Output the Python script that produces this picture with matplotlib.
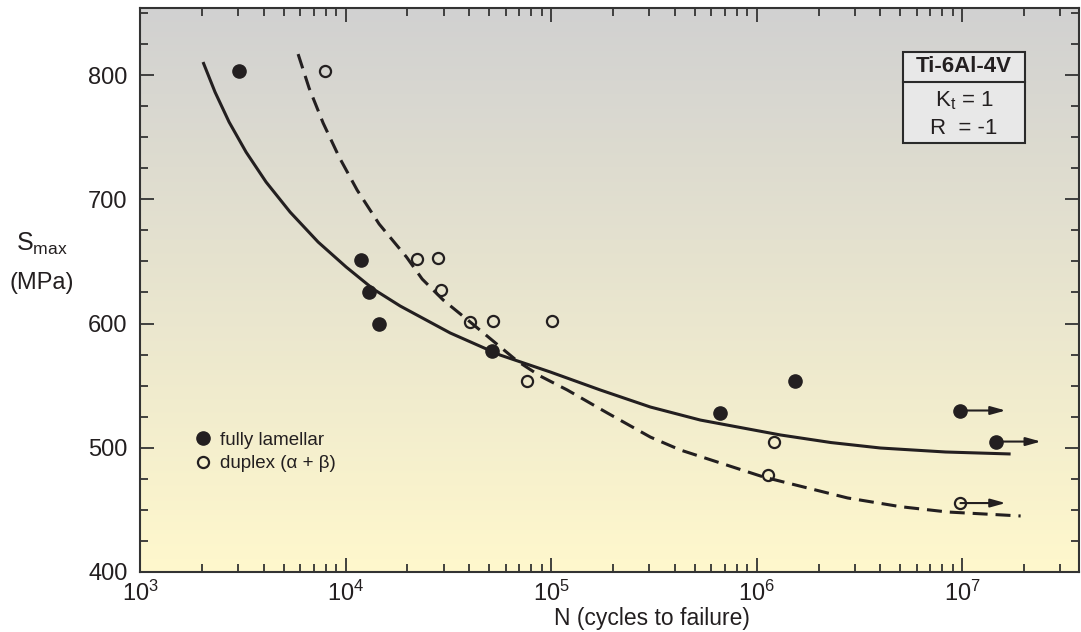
import numpy as np
import matplotlib
matplotlib.use("Agg")
import matplotlib.pyplot as plt
from matplotlib.ticker import LogLocator, FixedLocator, NullFormatter, FuncFormatter
from matplotlib.lines import Line2D
from matplotlib.patches import Rectangle

plt.rcParams['font.family'] = ['Liberation Sans', 'DejaVu Sans']
plt.rcParams['mathtext.fontset'] = 'custom'
plt.rcParams['mathtext.rm'] = 'Liberation Sans'
plt.rcParams['mathtext.it'] = 'Liberation Sans:italic'

# ── data ──
lam_N = [3035, 11900, 13030, 14590, 51700, 6.66e5, 1.545e6, 9.8e6, 1.455e7]
lam_S = [803, 651, 625, 600, 578, 528, 554, 530, 505]
lam_runout = [False, False, False, False, False, False, False, True, True]

dup_N = [7960, 22300, 28200, 29200, 40400, 52300, 101000, 76600, 1.21e6, 1.14e6, 9.8e6]
dup_S = [803, 652, 653, 627, 601, 602, 602, 554, 505, 478, 455.5]
dup_runout = [False]*10 + [True]

# fitted curves, points picked along the drawn lines
lam_fit_N = [2026, 2318, 2713, 3282, 4106, 5375, 7356, 10070, 13630, 18450, 32300,
             56570, 99100, 173600, 304100, 532500, 1.306e6, 2.30e6, 4.006e6, 8.30e6, 1.72e7]
lam_fit_S = [810.5, 786.3, 762.2, 738.0, 713.9, 689.7, 665.6, 645.5, 627.8, 614.1, 592.4,
             574.6, 561.0, 546.5, 532.8, 522.3, 510.3, 504.2, 499.8, 496.6, 495.0]
dup_fit_N = [5877, 6649, 7780, 9308, 11390, 14570, 19800, 23600, 29870, 40430, 68470,
             88590, 119900, 187800, 304100, 425600, 1.079e6, 2.768e6, 5.0e6, 8.49e6, 1.924e7]
dup_fit_S = [816.9, 789.5, 761.4, 734.0, 707.4, 680.1, 653.5, 635.8, 618.9, 601.2, 569.8,
             557.7, 546.5, 528.0, 508.6, 498.2, 476.5, 459.6, 452.6, 448.3, 445.1]

ink = '#231f20'

fig = plt.figure(figsize=(10.81, 6.32), dpi=100)
ax = fig.add_axes([140/1081, 60/632, 939/1081, 564/632])
ax.set_xscale('log')
ax.set_xlim(1e3, 3.7e7)
ax.set_ylim(400, 854)

# background gradient grey -> pale yellow
top = np.array([0.82, 0.82, 0.82]); bot = np.array([1.0, 0.972, 0.80])
t = np.linspace(0, 1, 256)[:, None]
grad = (top[None, :] * (1 - t) + bot[None, :] * t)[:, None, :]
ax.imshow(grad, extent=[0, 1, 0, 1], transform=ax.transAxes, aspect='auto', zorder=0)

# curves
ax.plot(lam_fit_N, lam_fit_S, color=ink, lw=2.2, zorder=2, solid_capstyle='butt',
        solid_joinstyle='round')
ax.plot(dup_fit_N, dup_fit_S, color=ink, lw=2.2, dashes=(4.9, 2.6), zorder=2)

# points
ax.plot(lam_N, lam_S, 'o', ms=9.5, color=ink, mec=ink, zorder=4, ls='none')
ax.plot(dup_N, dup_S, 'o', ms=8, mfc='none', mec=ink, mew=1.6, zorder=4, ls='none')
for N, S, r in list(zip(lam_N, lam_S, lam_runout)) + list(zip(dup_N, dup_S, dup_runout)):
    if r:
        ax.annotate('', xy=(N * 1.66, S), xytext=(N, S),
                    arrowprops=dict(arrowstyle='-|>,head_length=0.9,head_width=0.25',
                                    color=ink, lw=1.5, shrinkA=0, shrinkB=0), zorder=3)

# axes styling
for s in ax.spines.values():
    s.set_color('#333333'); s.set_linewidth(1.5)
ax.xaxis.set_major_locator(LogLocator(base=10, numticks=10))
ax.xaxis.set_minor_locator(LogLocator(base=10, subs=np.arange(2, 10), numticks=20))
ax.xaxis.set_minor_formatter(NullFormatter())
ax.xaxis.set_major_formatter(FuncFormatter(lambda v, p: r'$\mathregular{10^{%d}}$' % round(np.log10(v))))
ax.yaxis.set_major_locator(FixedLocator([400, 500, 600, 700, 800]))
ax.yaxis.set_minor_locator(FixedLocator(np.arange(400, 860, 25)))
ax.tick_params(which='both', direction='in', top=True, right=True, color='#333333', width=1.3)
ax.tick_params(which='major', length=10, labelsize=17, labelcolor=ink)
ax.tick_params(axis='y', which='major', pad=9)
ax.tick_params(axis='x', which='major', pad=6)
ax.tick_params(which='minor', length=6)

# axis labels
fig.text(42/1081, 1 - 244/632, r'$\mathregular{S_{max}}$', ha='center', va='center',
         fontsize=18, color=ink)
fig.text(42/1081, 1 - 283/632, '(MPa)', ha='center', va='center', fontsize=17, color=ink)
fig.text(652/1081, 1 - 618/632, 'N (cycles to failure)', ha='center', va='center',
         fontsize=16.5, color=ink)

# legend
h1 = Line2D([], [], marker='o', ls='none', ms=9.5, color=ink)
h2 = Line2D([], [], marker='o', ls='none', ms=8, mfc='none', mec=ink, mew=1.6)
ax.legend([h1, h2], ['fully lamellar', 'duplex (α + β)'], loc='lower left',
          bbox_to_anchor=(0.0375, 0.147), frameon=False, fontsize=13.5,
          handletextpad=0.3, labelspacing=0.35, handlelength=1.2, labelcolor=ink)

# material box
bx0, bx1 = (903 - 140) / 939, (1025 - 140) / 939
def yax(py):
    return (572 - py) / (572 - 8)
ax.add_patch(Rectangle((bx0, yax(143)), bx1 - bx0, yax(52) - yax(143), transform=ax.transAxes,
                       facecolor='#e8e8e8', edgecolor='#2a2a2a', lw=1.5, zorder=5))
ax.plot([bx0, bx1], [yax(82), yax(82)], transform=ax.transAxes, color='#2a2a2a', lw=1.5, zorder=6)
xc = (bx0 + bx1) / 2
ax.text(xc, yax(67), 'Ti-6Al-4V', transform=ax.transAxes, ha='center', va='center',
        fontsize=16, fontweight='bold', color=ink, zorder=7)
ax.text(xc, yax(101), r'K$_\mathregular{t}$ = 1', transform=ax.transAxes, ha='center', va='center',
        fontsize=16, color=ink, zorder=7)
ax.text(xc, yax(128), 'R  = -1', transform=ax.transAxes, ha='center', va='center',
        fontsize=16, color=ink, zorder=7)

fig.savefig('out.png', dpi=100)
